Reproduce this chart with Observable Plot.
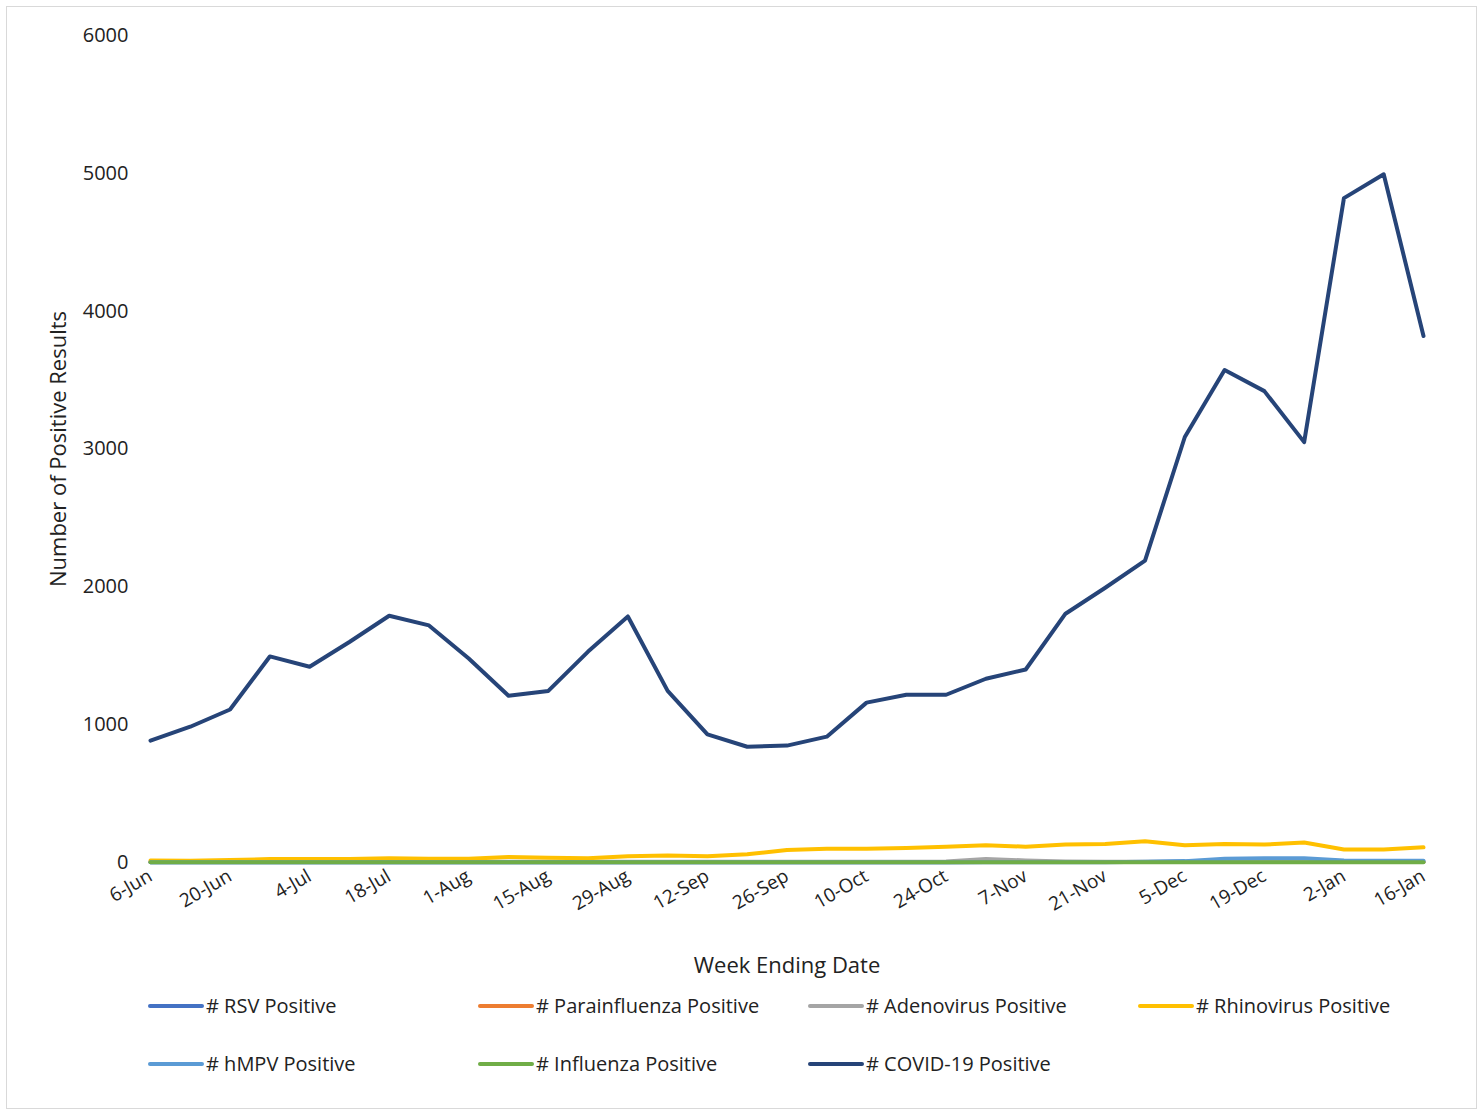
<!DOCTYPE html>
<html>
<head>
<meta charset="utf-8">
<script src="https://cdn.jsdelivr.net/npm/d3@7"></script>
<script src="https://cdn.jsdelivr.net/npm/@observablehq/plot@0.6"></script>
<style>
  body { margin: 0; background: #fff; font-family: "Open Sans", sans-serif; }
  #frame { position: absolute; left: 6px; top: 6px; width: 1469px; height: 1101px; border: 1px solid #d9d9d9; }
  #legend { position: absolute; left: 141px; top: 985px; width: 1320px; font-size: 20px; color: #222; }
  .item { position: absolute; display: flex; align-items: center; }
  .sw { width: 56px; height: 4px; border-radius: 2px; margin-right: 2px; }
</style>
</head>
<body>
<div id="frame">
  <div id="chart"></div>
  <div id="legend"></div>
</div>
<script>
// Week ending dates
const weeks = ["6-Jun","13-Jun","20-Jun","27-Jun","4-Jul","11-Jul","18-Jul","25-Jul","1-Aug","8-Aug","15-Aug","22-Aug","29-Aug",
  "5-Sep","12-Sep","19-Sep","26-Sep","3-Oct","10-Oct","17-Oct","24-Oct","31-Oct","7-Nov","14-Nov","21-Nov","28-Nov",
  "5-Dec","12-Dec","19-Dec","26-Dec","2-Jan","9-Jan","16-Jan"];

const rsv = [2,2,2,2,2,2,2,2,2,2,2,2,2,2,2,2,2,2,2,2,2,3,3,3,3,4,5,6,6,6,8,8,8];
const parainfluenza = [3,3,3,3,3,3,3,3,3,3,3,3,3,3,3,3,3,3,3,3,3,3,3,3,3,3,3,3,3,3,3,3,3];
const adenovirus = [5,5,5,5,5,5,5,5,5,5,5,5,5,5,5,5,5,5,5,5,8,25,15,8,6,6,6,6,6,6,6,6,6];
const rhinovirus = [15,12,18,25,25,25,30,28,28,40,35,30,45,50,45,60,90,100,100,105,115,125,115,130,135,155,125,135,130,145,95,95,110];
const hmpv = [2,2,2,2,2,2,2,2,2,2,2,2,2,2,2,2,2,2,2,2,2,2,2,2,2,5,10,28,30,30,15,12,12];
const influenza = [1,1,1,1,1,1,1,1,1,1,1,1,1,1,1,1,1,1,1,1,1,1,1,1,1,1,1,1,1,1,1,1,1];
const covid = [884,985,1110,1495,1420,1600,1790,1720,1480,1210,1245,1530,1785,1245,930,840,848,913,1160,1217,1217,1333,1400,
  1805,1993,2190,3087,3573,3420,3050,4820,4993,3820];

const series = [
  {name: "# RSV Positive", values: rsv, color: "#4472C4"},
  {name: "# Parainfluenza Positive", values: parainfluenza, color: "#ED7D31"},
  {name: "# Adenovirus Positive", values: adenovirus, color: "#A5A5A5"},
  {name: "# Rhinovirus Positive", values: rhinovirus, color: "#FFC000"},
  {name: "# hMPV Positive", values: hmpv, color: "#5B9BD5"},
  {name: "# Influenza Positive", values: influenza, color: "#70AD47"},
  {name: "# COVID-19 Positive", values: covid, color: "#264478"}
];

const rows = series.flatMap(s => s.values.map((v, i) => ({series: s.name, i, v})));

const chart = Plot.plot({
  width: 1469,
  height: 975,
  marginLeft: 143,
  marginRight: 53,
  marginTop: 28,
  marginBottom: 120,
  style: {fontFamily: "Open Sans, sans-serif", fontSize: "19px", color: "#222", background: "#fff"},
  x: {domain: [0, 32]},
  y: {domain: [0, 6000]},
  color: {domain: series.map(s => s.name), range: series.map(s => s.color)},
  marks: [
    Plot.ruleY([0], {stroke: "#d9d9d9"}),
    Plot.axisX({ticks: d3.range(0, 33, 2), tickFormat: i => weeks[i], tickSize: 0, tickRotate: -30, tickPadding: 12,
      fontSize: 19, label: null}),
    Plot.axisX({ticks: [], label: "Week Ending Date", labelAnchor: "center", labelArrow: "none", labelOffset: 110,
      fontSize: 22}),
    Plot.axisY({ticks: d3.range(0, 6001, 1000), tickFormat: d => String(d), tickSize: 0, tickPadding: 22, fontSize: 20, label: null}),
    Plot.axisY({ticks: [], label: "Number of Positive Results", labelAnchor: "center", labelArrow: "none",
      labelOffset: 100, fontSize: 22}),
    Plot.line(rows, {x: "i", y: "v", z: "series", stroke: "series", strokeWidth: 4})
  ]
});
document.getElementById("chart").append(chart);

const legend = d3.select("#legend");
series.forEach((s, k) => {
  const item = legend.append("div").attr("class", "item")
    .style("left", (k % 4) * 330 + "px").style("top", Math.floor(k / 4) * 58 + "px");
  item.append("div").attr("class", "sw").style("background", s.color);
  item.append("span").text(s.name);
});
</script>
</body>
</html>
